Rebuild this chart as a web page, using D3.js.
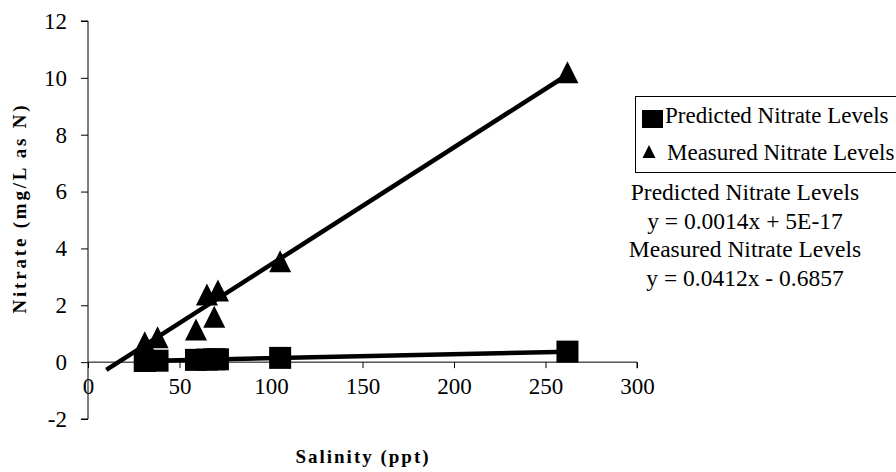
<!DOCTYPE html>
<html>
<head>
<meta charset="utf-8">
<script src="https://cdn.jsdelivr.net/npm/d3@7/dist/d3.min.js"></script>
<style>
  html, body { margin: 0; padding: 0; background: #fff; }
  svg { display: block; }
</style>
</head>
<body>
<svg id="chart" width="896" height="472"></svg>
<script>
// Salinity (ppt) of each sample
const salinity = [31, 38, 59, 65, 69, 71, 105, 262];
// Nitrate (mg/L as N)
const predictedNitrate = [0.04, 0.05, 0.08, 0.09, 0.10, 0.10, 0.15, 0.37];
const measuredNitrate = [0.70, 0.88, 1.15, 2.38, 1.60, 2.52, 3.55, 10.2];

// Linear trendlines: slope, intercept, and x extent
const predictedFit = { slope: 0.0014, intercept: 5e-17, from: 31, to: 262 };
const measuredFit = { slope: 0.0412, intercept: -0.6857, from: 10, to: 262 };

const xTicks = [0, 50, 100, 150, 200, 250, 300];
const yTicks = [-2, 0, 2, 4, 6, 8, 10, 12];

const seriesNames = ["Predicted Nitrate Levels", "Measured Nitrate Levels"];
const equationLines = [
  "Predicted Nitrate Levels",
  "y = 0.0014x + 5E-17",
  "Measured Nitrate Levels",
  "y = 0.0412x - 0.6857"
];

const serif = '"Liberation Serif", "Times New Roman", Times, serif';
const svg = d3.select("#chart");

const x = d3.scaleLinear().domain([0, 300]).range([88, 637]);
const y = d3.scaleLinear().domain([-2, 12]).range([419, 21]);

// Y axis at x = 0
const yAxis = svg.append("g")
  .attr("transform", `translate(${x(0)},0)`)
  .call(d3.axisLeft(y).tickValues(yTicks).tickSize(7).tickPadding(14).tickFormat(d => String(d)));
yAxis.select(".domain").attr("d", `M0,${y(-2)}H-7M0,${y(-2)}V${y(12)}H-7`);

// X axis at y = 0
const xAxis = svg.append("g")
  .attr("transform", `translate(0,${y(0)})`)
  .call(d3.axisBottom(x).tickValues(xTicks).tickSize(6).tickPadding(10).tickFormat(d => String(d)));
xAxis.select(".domain").attr("d", `M${x(0)},0H${x(300)}V6`);

svg.selectAll(".tick text")
  .style("font-family", serif).style("font-size", "23px").attr("fill", "#000");
svg.selectAll(".domain, .tick line").attr("stroke", "#000").attr("stroke-width", 1);
xAxis.selectAll(".tick text").attr("dy", "0.71em");

// Trendlines
const line = d3.line().x(d => x(d[0])).y(d => y(d[1]));
[predictedFit, measuredFit].forEach(f => {
  const pts = [f.from, f.to].map(v => [v, f.slope * v + f.intercept]);
  svg.append("path").attr("d", line(pts))
    .attr("fill", "none").attr("stroke", "#000").attr("stroke-width", 4.5);
});

// Markers
const sq = 22;
svg.append("g").selectAll("rect")
  .data(salinity.map((s, i) => [s, predictedNitrate[i]]))
  .join("rect")
  .attr("x", d => x(d[0]) - sq / 2).attr("y", d => y(d[1]) - sq / 2)
  .attr("width", sq).attr("height", sq).attr("fill", "#000");

function tri(cx, cy, w, h) {
  return `M${cx},${cy - h / 2}L${cx + w / 2},${cy + h / 2}L${cx - w / 2},${cy + h / 2}Z`;
}
svg.append("g").selectAll("path")
  .data(salinity.map((s, i) => [s, measuredNitrate[i]]))
  .join("path")
  .attr("d", d => tri(x(d[0]), y(d[1]), 22, 22)).attr("fill", "#000");

// Axis titles
svg.append("text")
  .attr("x", 363).attr("y", 463).attr("text-anchor", "middle")
  .style("font-family", serif).style("font-size", "19px").style("font-weight", "bold")
  .style("letter-spacing", "2px")
  .text("Salinity (ppt)");
svg.append("text")
  .attr("transform", "translate(26,208) rotate(-90)").attr("text-anchor", "middle")
  .style("font-family", serif).style("font-size", "19px").style("font-weight", "bold")
  .style("letter-spacing", "2.8px")
  .text("Nitrate (mg/L as N)");

// Legend
const lg = svg.append("g");
lg.append("rect").attr("x", 635.5).attr("y", 96.5).attr("width", 300).attr("height", 76)
  .attr("fill", "#fff").attr("stroke", "#000").attr("stroke-width", 1);
lg.append("rect").attr("x", 642).attr("y", 110).attr("width", 21).attr("height", 18).attr("fill", "#000");
lg.append("path").attr("d", tri(649, 151.5, 13, 13)).attr("fill", "#000");
lg.selectAll("text.leg").data(seriesNames).join("text")
  .attr("class", "leg")
  .attr("x", (d, i) => i === 0 ? 665 : 667)
  .attr("y", (d, i) => 123 + i * 37)
  .style("font-family", serif).style("font-size", "23px")
  .text(d => d);

// Trendline equations
svg.append("g").selectAll("text").data(equationLines).join("text")
  .attr("x", 745).attr("y", (d, i) => 200 + i * 28.7)
  .attr("text-anchor", "middle")
  .style("font-family", serif).style("font-size", "23.5px")
  .text(d => d);
</script>
</body>
</html>
